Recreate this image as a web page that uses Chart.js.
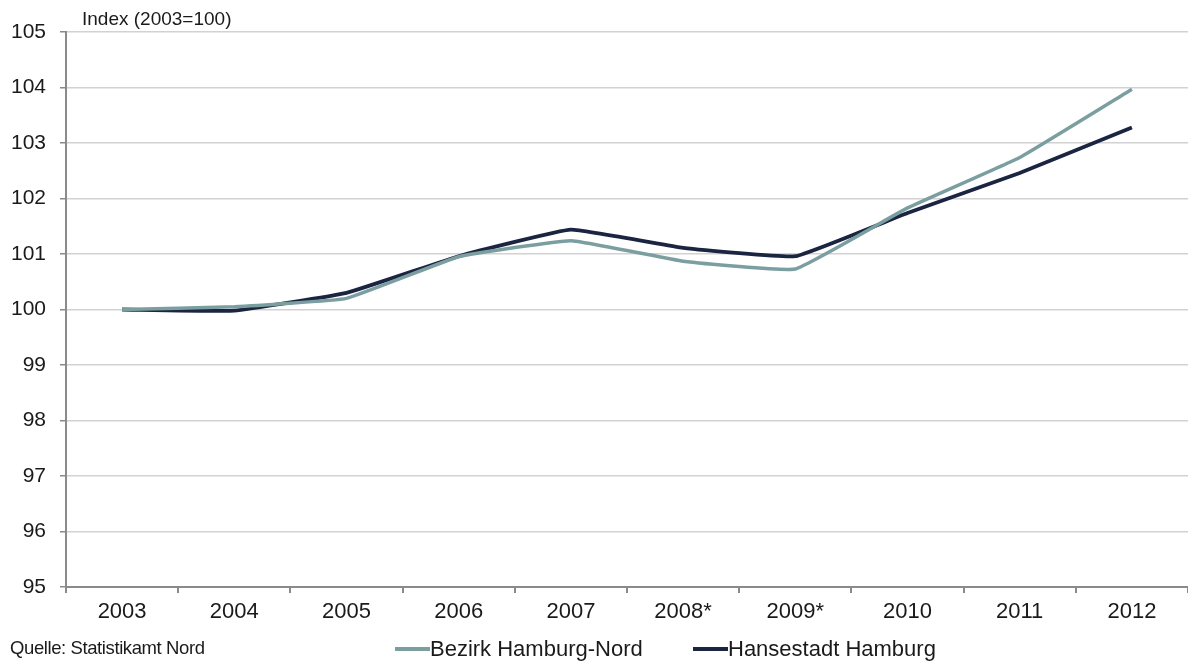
<!DOCTYPE html>
<html>
<head>
<meta charset="utf-8">
<script src="https://cdn.jsdelivr.net/npm/chart.js@4"></script>
<style>
	body { margin: 0; background: #fff; }
	.wrap { position: relative; width: 1188px; height: 661px; font-family: 'Liberation Sans', Arial, sans-serif; color: #1a1a1a; }
	canvas { position: absolute; left: 0; top: 0; }
	.unit { position: absolute; left: 82px; top: 8px; font-size: 19px; }
	.source { position: absolute; left: 10px; top: 637px; font-size: 18.5px; letter-spacing: -0.4px; }
	.legend { position: absolute; top: 636px; font-size: 22px; display: flex; align-items: center; white-space: nowrap; }
	.legend span.mark { display: inline-block; width: 35px; height: 4px; }
</style>
</head>
<body>
<div class="wrap">
	<canvas id="indexChart" width="1188" height="661"></canvas>
	<div class="unit">Index (2003=100)</div>
	<div class="source">Quelle: Statistikamt Nord</div>
	<div class="legend" style="left: 395px"><span class="mark" style="background: #7b9fa0"></span>Bezirk Hamburg-Nord</div>
	<div class="legend" style="left: 693px"><span class="mark" style="background: #1b2441"></span>Hansestadt Hamburg</div>
</div>
<script>
const years = ['2003', '2004', '2005', '2006', '2007', '2008*', '2009*', '2010', '2011', '2012']
const hamburgNord = [100, 100.05, 100.2, 100.95, 101.24, 100.87, 100.73, 101.83, 102.74, 103.97]
const hamburg = [100, 99.98, 100.3, 100.96, 101.44, 101.11, 100.96, 101.74, 102.46, 103.28]
const yTicks = [95, 96, 97, 98, 99, 100, 101, 102, 103, 104, 105]

const ctx = document.getElementById('indexChart').getContext('2d')
new Chart(ctx, {
	type: 'line',
	data: {
		labels: years,
		datasets: [
			{
				label: 'Bezirk Hamburg-Nord',
				data: hamburgNord,
				borderColor: '#7b9fa0',
				borderWidth: 3.5,
				pointRadius: 0,
				tension: 0.1,
			},
			{
				label: 'Hansestadt Hamburg',
				data: hamburg,
				borderColor: '#1b2441',
				borderWidth: 3.8,
				pointRadius: 0,
				tension: 0.1,
			},
		],
	},
	options: {
		responsive: false,
		animation: false,
		layout: { padding: { top: 32, right: 0, bottom: 34, left: 0 } },
		plugins: { legend: { display: false }, tooltip: { enabled: false } },
		scales: {
			x: {
				offset: true,
				grid: { drawOnChartArea: false, offset: true, tickLength: 6, tickColor: '#8a8a8a', lineWidth: 2 },
				border: { color: '#8a8a8a', width: 2 },
				ticks: { color: '#1a1a1a', font: { family: 'Liberation Sans', size: 22 }, padding: 6, maxRotation: 0 },
				afterFit: axis => { axis.height = 40 },
			},
			y: {
				min: 95,
				max: 105,
				afterBuildTicks: axis => { axis.ticks = yTicks.map(v => ({ value: v })) },
				grid: { color: '#d2d2d2', lineWidth: 1.5, tickLength: 6, tickColor: '#8a8a8a' },
				border: { color: '#8a8a8a', width: 2 },
				ticks: { color: '#1a1a1a', font: { family: 'Liberation Sans', size: 21 }, padding: 14 },
				afterFit: axis => { axis.width = 66 },
			},
		},
	},
})
</script>
</body>
</html>
